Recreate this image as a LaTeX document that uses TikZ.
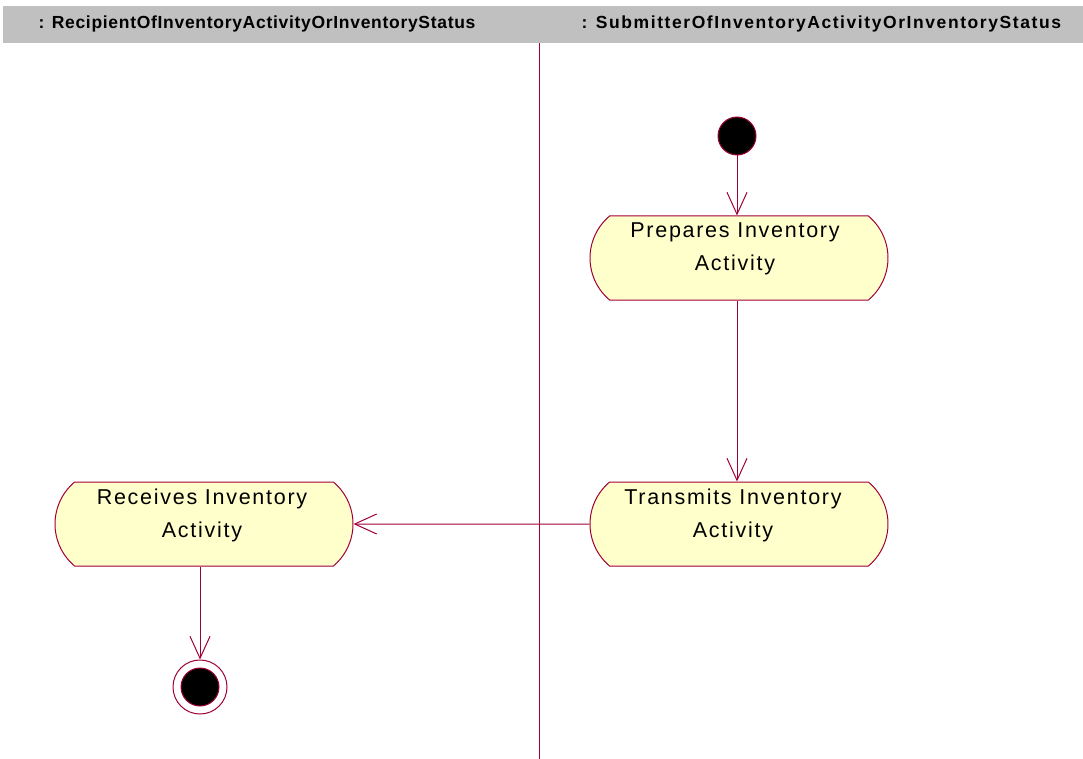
\documentclass[tikz,border=0pt]{standalone}
\usepackage{fontspec}
\setmainfont{Liberation Sans}
\usetikzlibrary{shapes.misc,arrows.meta}
\definecolor{umlred}{HTML}{A00038}
\definecolor{umlfill}{HTML}{FFFFCC}
\definecolor{lanegray}{HTML}{C0C0C0}
\begin{document}
\begin{tikzpicture}
  [x=1pt,y=-1pt,
   activity/.style={rounded rectangle,rounded rectangle arc length=100,line width=1pt,
     draw=umlred,fill=umlfill,minimum width=298pt,minimum height=84pt,inner sep=0pt},
   txt/.style={align=center,font=\fontsize{21.5}{33}\selectfont\addfontfeature{LetterSpace=8}},
   lane/.style={font=\bfseries\fontsize{17.5}{20}\selectfont\addfontfeature{LetterSpace=4},anchor=west},
   flow/.style={draw=umlred,line width=1pt,-{Straight Barb[length=22pt,width=20pt,line width=1pt]}}]
  \useasboundingbox (0,0) rectangle (1083,759);
  \fill[lanegray] (3,6) rectangle (1083,43);
  \node[lane] (l1) at (35,24) {: RecipientOfInventoryActivityOrInventoryStatus};
  \node[lane,font=\bfseries\fontsize{17.5}{20}\selectfont\addfontfeature{LetterSpace=9}] (l2) at (578,24) {: SubmitterOfInventoryActivityOrInventoryStatus};
  \draw[umlred,line width=1.2pt] (539.5,43) -- (539.5,759);
  \node (start)[circle,draw=umlred,line width=1pt,fill=black,minimum size=38pt,inner sep=0pt] at (737,136) {};
  \node (n1)[activity] at (739,258) {};
  \node (t1)[txt] at (735,249) {Prepares Inventory\\Activity};
  \node (n2)[activity] at (739,524) {};
  \node (t2)[txt] at (733,515) {Transmits Inventory\\Activity};
  \node (n3)[activity] at (204,524) {};
  \node (t3)[txt] at (202,515) {Receives Inventory\\Activity};
  \node (stop)[circle,draw=umlred,line width=1pt,fill=white,minimum size=54pt,inner sep=0pt] at (200,687) {};
  \node (stopin)[circle,draw=umlred,line width=1pt,fill=black,minimum size=38pt,inner sep=0pt] at (200,687) {};
  \draw[flow] (start) -- (n1.north -| start);
  \draw[flow] (n1.south -| start) -- (n2.north -| start);
  \draw[flow] (n2) -- (n3);
  \draw[flow] (n3.south -| stop) -- (stop);
\end{tikzpicture}
\end{document}
